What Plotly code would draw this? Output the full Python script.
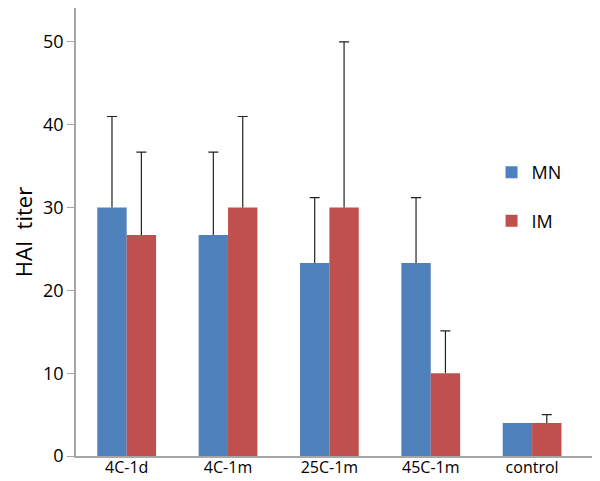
import plotly.graph_objects as go

categories = ["4C-1d", "4C-1m", "25C-1m", "45C-1m", "control"]
mn_values = [30, 26.7, 23.3, 23.3, 4]
mn_err = [11, 10, 7.9, 7.9, None]
im_values = [26.7, 30, 30, 10, 4]
im_err = [10, 11, 20, 5.1, 1]
y_ticks = [0, 10, 20, 30, 40, 50]

FONT = "Open Sans, DejaVu Sans, sans-serif"
ERR_COLOR = "#222222"


def tops(vals, errs):
    return [v + e if e is not None else None for v, e in zip(vals, errs)]


fig = go.Figure()
for name, vals, errs, color, grp in [
    ("MN", mn_values, mn_err, "#4F81BD", "mn"),
    ("IM", im_values, im_err, "#C0504D", "im"),
]:
    # visible bars with upward error stems (no caps)
    fig.add_trace(go.Bar(
        name=name, x=categories, y=vals, marker_color=color,
        marker_line_width=0, offsetgroup=grp, legendgroup=grp,
        error_y=dict(type="data", array=errs, arrayminus=[0] * len(errs),
                     symmetric=False, color=ERR_COLOR, thickness=1.2, width=0),
    ))
    # transparent bars whose zero-size error bars draw the caps at stem tops
    fig.add_trace(go.Bar(
        name=name, x=categories, y=tops(vals, errs),
        marker_color="rgba(0,0,0,0)", marker_line_width=0,
        offsetgroup=grp, legendgroup=grp, showlegend=False, hoverinfo="skip",
        error_y=dict(type="data", array=[0 if e is not None else None for e in errs],
                     symmetric=True, color=ERR_COLOR, thickness=1.2, width=5),
    ))

# page body has an 8px margin, so the figure is sized to fit the 600x481 window
fig.update_layout(
    width=592, height=473,
    margin=dict(l=68, r=0, t=0, b=25),
    paper_bgcolor="white", plot_bgcolor="white",
    barmode="group", bargap=0.42, bargroupgap=0,
    font=dict(family=FONT, color="#000000"),
    legend=dict(x=0.793, y=0.674, xanchor="left", yanchor="top",
                font=dict(size=18, family=FONT), tracegroupgap=22,
                bgcolor="rgba(0,0,0,0)", itemwidth=30),
    showlegend=True,
)
fig.update_xaxes(
    range=[-0.5, 4.67], showline=True, linecolor="#A6A6A6", linewidth=1.5,
    ticks="", ticklen=0, tickfont=dict(size=16, family=FONT, color="#000000"),
    ticklabelstandoff=-4,
    showgrid=False, zeroline=False, automargin=False,
)
fig.update_yaxes(
    range=[0, 54.1], tickvals=y_ticks, showline=True, linecolor="#A6A6A6",
    linewidth=1.5, ticks="outside", ticklen=7, tickcolor="#A6A6A6",
    tickfont=dict(size=18, family=FONT, color="#000000"),
    showgrid=False, zeroline=False, automargin=True,
    title=dict(text="HAI  titer", font=dict(size=22, family=FONT, color="#000000"),
               standoff=8),
)

fig.write_html("out.html")
